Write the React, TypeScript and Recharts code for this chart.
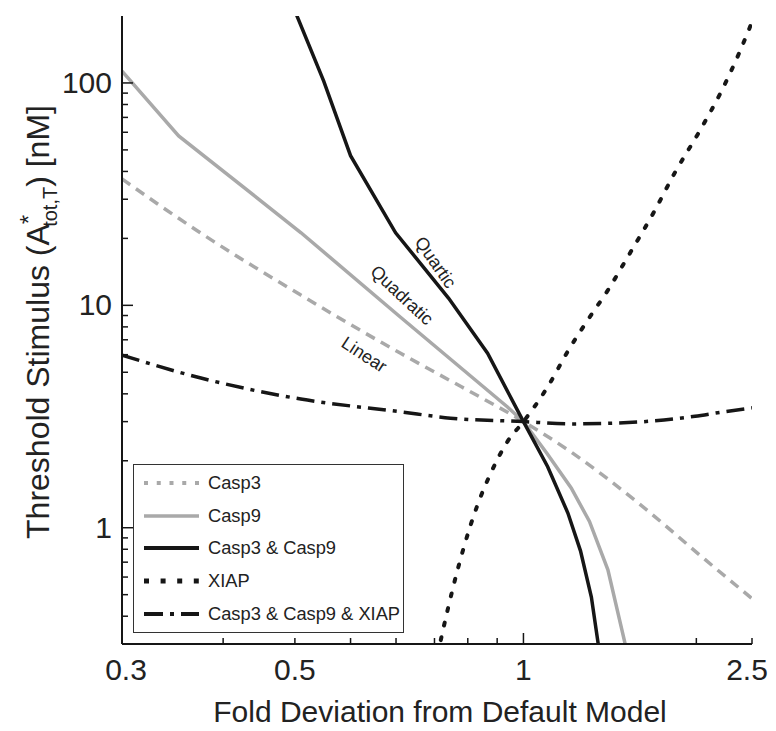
import React from 'react';
import { LineChart, Line, XAxis, YAxis, Legend, ReferenceDot } from 'recharts';

// ---------- data (fold deviation x, threshold stimulus y in nM) ----------
const casp3X = [0.2, 0.27, 0.41, 0.61, 0.78, 1, 1.21, 1.58, 2.07, 2.5];
const casp3Y = [37, 21.7, 11.1, 6.1, 4.3, 3.0, 2.19, 1.3, 0.72, 0.48];

const casp9X = [0.2, 0.251, 0.41, 0.611, 0.938, 1, 1.1, 1.211, 1.303, 1.403, 1.54];
const casp9Y = [113, 57.8, 21.2, 8.84, 3.49, 3.0, 2.15, 1.51, 1.067, 0.647, 0.23];

const casp39X = [0.3855, 0.449, 0.5, 0.599, 0.741, 0.866, 1, 1.102, 1.195, 1.257, 1.313, 1.37];
const casp39Y = [266, 102, 47.1, 21.2, 10.75, 6.09, 3.0, 1.88, 1.164, 0.787, 0.488, 0.23];

const xiapX = [0.7, 0.7226, 0.788, 0.832, 0.8776, 0.938, 1, 1.102, 1.195, 1.295, 1.403, 1.521, 1.693, 1.835, 2.029, 2.214, 2.384, 2.5];
const xiapY = [0.23, 0.337, 0.822, 1.268, 1.765, 2.44, 3.0, 4.3, 6.22, 8.62, 11.7, 16.6, 26.7, 39.5, 61.1, 92.4, 139.6, 188];

const allX = [0.2, 0.2744, 0.4095, 0.611, 0.7465, 1, 1.207, 1.521, 1.989, 2.214, 2.5];
const allY = [5.97, 4.71, 3.79, 3.32, 3.11, 3.0, 2.93, 2.97, 3.17, 3.31, 3.46];

const xTickValues = [0.2, 0.3, 0.4, 0.5, 0.6, 0.7, 0.8, 0.9, 1, 2, 2.5];
const xTickLabels = ['0.3', '', '0.5', '', '', '', '', '', '1', '', '2.5'];
const xTickLabelShift = [4, 0, 0, 0, 0, 0, 0, 0, 0, 0, -5];
const xMajorTicks = [1];

const yTickValues = [0.4, 0.5, 0.6, 0.7, 0.8, 0.9, 1, 2, 3, 4, 5, 6, 7, 8, 9, 10, 20, 30, 40, 50, 60, 70, 80, 90, 100];
const yTickLabels: Record<string, string> = { '1': '1', '10': '10', '100': '100' };
const yMajorTicks = [1, 10, 100];

const curveLabels = [
  { text: 'Quartic', x: 0.703, y: 15.6, angle: 55 },
  { text: 'Quadratic', x: 0.614, y: 11.1, angle: 43 },
  { text: 'Linear', x: 0.528, y: 6.0, angle: 33 },
];

const zip = (xs: number[], ys: number[]) => xs.map((x, i) => ({ x, y: ys[i] }));

const GRAY = '#a9a9a9';
const BLACK = '#161616';
const FONT = "'Liberation Sans', Arial, Helvetica, sans-serif";
const TEXT = '#222';

const series = [
  { key: 'Casp3', data: zip(casp3X, casp3Y), color: GRAY, dash: '10 7', width: 3.5, type: 'monotone', cap: 'butt', legendDash: '4 8.75', legendWidth: 4 },
  { key: 'Casp9', data: zip(casp9X, casp9Y), color: GRAY, dash: undefined, width: 3.5, type: 'linear', cap: 'butt', legendDash: undefined, legendWidth: 3.5 },
  { key: 'XIAP', data: zip(xiapX, xiapY), color: BLACK, dash: '3 12', width: 4, type: 'monotone', cap: 'round', legendDash: '5 11.6', legendWidth: 5 },
  { key: 'Casp3 & Casp9 & XIAP', data: zip(allX, allY), color: BLACK, dash: '18 7 4 7', width: 3.5, type: 'monotone', cap: 'butt', legendDash: '19 7 4 7 20', legendWidth: 4 },
  { key: 'Casp3 & Casp9', data: zip(casp39X, casp39Y), color: BLACK, dash: undefined, width: 3.5, type: 'linear', cap: 'butt', legendDash: undefined, legendWidth: 4 },
];
const legendOrder = ['Casp3', 'Casp9', 'Casp3 & Casp9', 'XIAP', 'Casp3 & Casp9 & XIAP'];

const BottomTick = (props: any) => {
  const { x, y, payload } = props;
  const v = payload.value;
  const len = xMajorTicks.includes(v) ? 11 : 6;
  const idx = xTickValues.indexOf(v);
  const label = idx >= 0 ? xTickLabels[idx] : '';
  return (
    <g>
      <line x1={x} x2={x} y1={y} y2={y - len} stroke={BLACK} strokeWidth={1.5} />
      {label ? (
        <text x={x + xTickLabelShift[idx]} y={y + 36} textAnchor="middle" fontSize={30} fontFamily={FONT} fill={TEXT}>
          {label}
        </text>
      ) : null}
    </g>
  );
};

const TopTick = (props: any) => {
  const { x, y, payload } = props;
  const len = xMajorTicks.includes(payload.value) ? 11 : 6;
  return <line x1={x} x2={x} y1={y} y2={y + len} stroke={BLACK} strokeWidth={1.5} />;
};

const LeftTick = (props: any) => {
  const { x, y, payload } = props;
  const v = payload.value;
  const len = yMajorTicks.includes(v) ? 11 : 6;
  const label = yTickLabels[String(v)];
  return (
    <g>
      <line x1={x} x2={x + len} y1={y} y2={y} stroke={BLACK} strokeWidth={1.5} />
      {label ? (
        <text x={x - 10} y={y + 10} textAnchor="end" fontSize={30} fontFamily={FONT} fill={TEXT}>
          {label}
        </text>
      ) : null}
    </g>
  );
};

const RightTick = (props: any) => {
  const { x, y, payload } = props;
  const len = yMajorTicks.includes(payload.value) ? 11 : 6;
  return <line x1={x} x2={x - len} y1={y} y2={y} stroke={BLACK} strokeWidth={1.5} />;
};

const XTitle = () => (
  <text x={432} y={714} textAnchor="middle" fontSize={30} fontFamily={FONT} fill={TEXT}>
    Fold Deviation from Default Model
  </text>
);

const YTitle = () => (
  <text transform="translate(41,314) rotate(-90)" textAnchor="middle" fontSize={32} fontFamily={FONT} fill={TEXT}>
    Threshold Stimulus (A
    <tspan dy={-12} fontSize={24}>*</tspan>
    <tspan dx={-12} dy={20} fontSize={20}>tot,T</tspan>
    <tspan dy={-8}>) [nM]</tspan>
  </text>
);

const LegendBox = () => (
  <div
    style={{
      width: 271,
      height: 169,
      boxSizing: 'border-box',
      border: '1.5px solid #333',
      background: '#fff',
      paddingTop: 2,
      fontFamily: FONT,
    }}
  >
    {legendOrder.map((name) => {
      const s = series.find((d) => d.key === name)!;
      return (
        <div key={name} style={{ display: 'flex', alignItems: 'center', height: 32.6, whiteSpace: 'nowrap' }}>
          <svg width={74} height={14} style={{ display: 'block', flex: 'none' }}>
            <line
              x1={10}
              x2={65}
              y1={7}
              y2={7}
              stroke={s.color}
              strokeWidth={s.legendWidth}
              strokeDasharray={s.legendDash}
            />
          </svg>
          <span style={{ fontSize: 18.3, color: TEXT, lineHeight: 1, whiteSpace: 'nowrap' }}>{name}</span>
        </div>
      );
    })}
  </div>
);

export default function App() {
  return (
    <LineChart width={768} height={723} margin={{ top: 8, right: 24, left: 14, bottom: 27 }}>
      <XAxis
        xAxisId="main"
        dataKey="x"
        type="number"
        scale="log"
        domain={[0.2, 2.5]}
        allowDataOverflow
        ticks={xTickValues}
        interval={0}
        height={60}
        tickSize={0}
        tickMargin={0}
        tickLine={false}
        tick={<BottomTick />}
        axisLine={{ stroke: BLACK, strokeWidth: 2 }}
        label={<XTitle />}
      />
      <XAxis
        xAxisId="top"
        orientation="top"
        dataKey="x"
        type="number"
        scale="log"
        domain={[0.2, 2.5]}
        allowDataOverflow
        ticks={xTickValues}
        interval={0}
        height={0}
        tickSize={0}
        tickMargin={0}
        tickLine={false}
        tick={<TopTick />}
        axisLine={{ stroke: BLACK, strokeWidth: 2 }}
      />
      <YAxis
        yAxisId="main"
        dataKey="y"
        type="number"
        scale="log"
        domain={[0.3, 200]}
        allowDataOverflow
        ticks={yTickValues}
        interval={0}
        width={100}
        tickSize={0}
        tickMargin={0}
        tickLine={false}
        tick={<LeftTick />}
        axisLine={{ stroke: BLACK, strokeWidth: 2 }}
        label={<YTitle />}
      />
      <YAxis
        yAxisId="right"
        orientation="right"
        dataKey="y"
        type="number"
        scale="log"
        domain={[0.3, 200]}
        allowDataOverflow
        ticks={yTickValues}
        interval={0}
        width={0}
        tickSize={0}
        tickMargin={0}
        tickLine={false}
        tick={<RightTick />}
        axisLine={{ stroke: BLACK, strokeWidth: 2 }}
      />
      {series.map((s) => (
        <Line
          key={s.key}
          xAxisId="main"
          yAxisId="main"
          data={s.data}
          dataKey="y"
          name={s.key}
          type={s.type as any}
          stroke={s.color}
          strokeWidth={s.width}
          strokeDasharray={s.dash}
          strokeLinecap={s.cap as any}
          dot={false}
          activeDot={false}
          isAnimationActive={false}
        />
      ))}
      {curveLabels.map((c) => (
        <ReferenceDot
          key={c.text}
          xAxisId="main"
          yAxisId="main"
          x={c.x}
          y={c.y}
          r={0}
          shape={(p: any) => (
            <text
              x={p.cx}
              y={p.cy}
              transform={`rotate(${c.angle} ${p.cx} ${p.cy})`}
              textAnchor="middle"
              dominantBaseline="central"
              fontSize={18}
              fontFamily={FONT}
              fill={TEXT}
            >
              {c.text}
            </text>
          )}
        />
      ))}
      <Legend
        layout="vertical"
        align="center"
        verticalAlign="middle"
        wrapperStyle={{ position: 'absolute', left: 125, top: 456, width: 271, height: 169 }}
        content={() => <LegendBox />}
      />
    </LineChart>
  );
}
